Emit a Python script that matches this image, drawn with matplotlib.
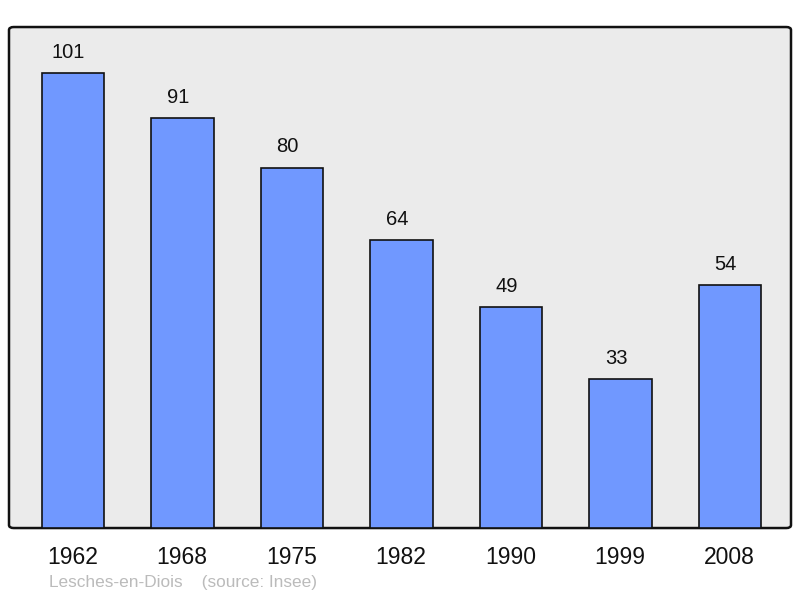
import matplotlib
matplotlib.use("Agg")
import matplotlib.pyplot as plt
from matplotlib.patches import FancyBboxPatch

# ===== DATA =====
years = ["1962", "1968", "1975", "1982", "1990", "1999", "2008"]
population = [101, 91, 80, 64, 49, 33, 54]
town = "Lesches-en-Diois"
source = "(source: Insee)"

plt.rcParams["font.family"] = ["Liberation Sans", "DejaVu Sans"]

fig = plt.figure(figsize=(8, 5.98), dpi=100)
ax = fig.add_axes([0.01125, 0.117, 0.9775, 0.8378])
ax.set_facecolor("none")

# rounded frame
frame = FancyBboxPatch((0, 0), 1, 1, boxstyle="round,pad=0,rounding_size=0.006",
                       transform=ax.transAxes, facecolor="#ebebeb",
                       edgecolor="#111111", linewidth=1.8, zorder=0, clip_on=False)
ax.add_patch(frame)

x = range(len(years))
bars = ax.bar([xi + 0.005 for xi in x], population, width=0.57, color="#7098ff",
              edgecolor="#111111", linewidth=1.2, zorder=2)

for xi, v in zip(x, population):
    ax.annotate(str(v), (xi, v), xytext=(-3, 8), textcoords="offset points",
                ha="center", va="bottom", fontsize=14.5, color="#111111")

ax.set_xlim(-0.58, 6.56)
ax.set_ylim(0, 111.2)
ax.set_xticks(list(x))
ax.set_xticklabels(years, fontsize=16.5, color="#111111")
ax.tick_params(axis="x", length=0, pad=13)
ax.set_yticks([])
for s in ax.spines.values():
    s.set_visible(False)

fig.text(49 / 800, 1 - 583 / 598, town + "    " + source, fontsize=12.4,
         color="#bbbbbb", ha="left", va="center")

fig.savefig("out.png", dpi=100)
